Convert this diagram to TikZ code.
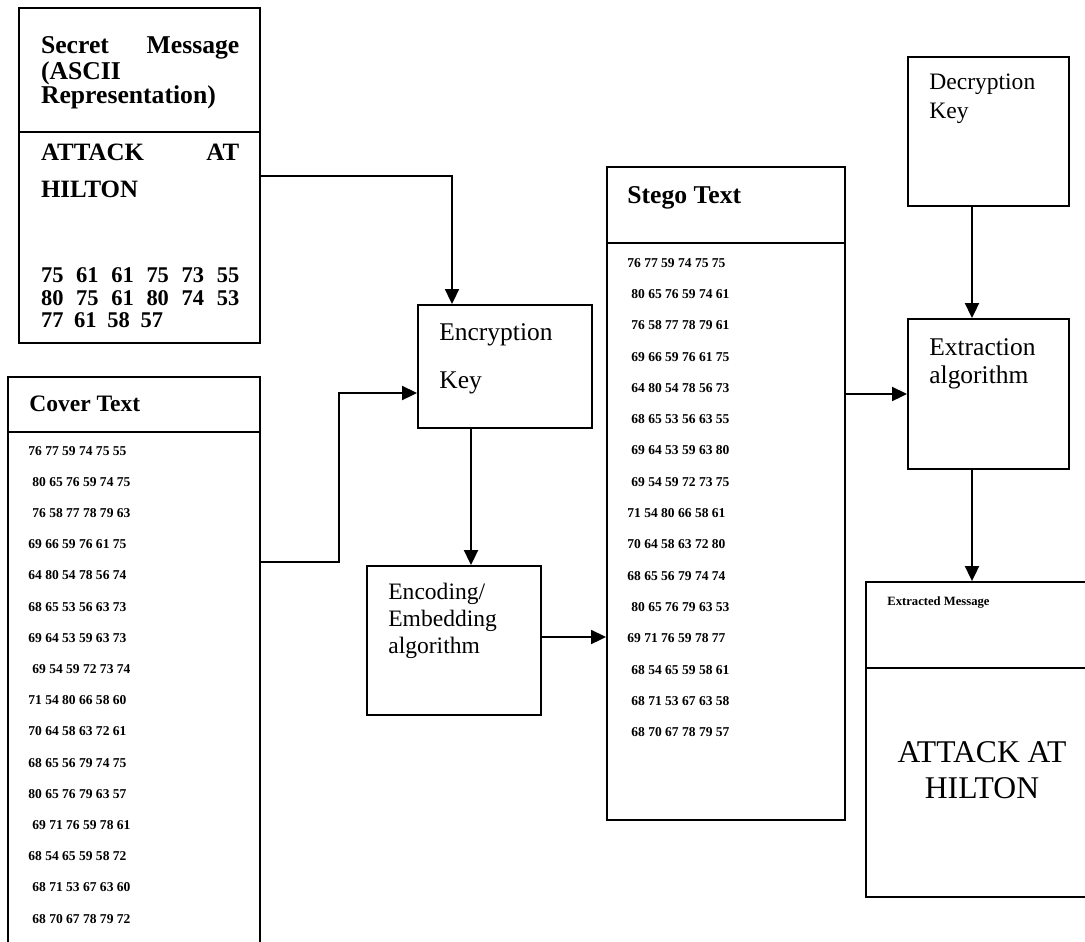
\documentclass[tikz,border=0pt]{standalone}
\usepackage{fontspec}
\setmainfont{Liberation Serif}
\usetikzlibrary{arrows.meta}

\tikzset{
  box/.style={draw, line width=1.1pt, inner sep=0pt},
  lbl/.style={anchor=base west, inner sep=0pt},
  arr/.style={line width=1.1pt, -{Triangle[length=0.3cm,width=0.28cm]}},
}

\begin{document}
\begin{tikzpicture}[x=0.02cm, y=-0.02cm,
    hd/.style={lbl, font=\fontsize{14.6pt}{17pt}\selectfont\bfseries},
    msgtxt/.style={lbl, font=\fontsize{14.2pt}{17pt}\selectfont\bfseries},
    msgnum/.style={lbl, font=\fontsize{12.8pt}{15pt}\selectfont\bfseries},
    num/.style={lbl, font=\fontsize{7.7pt}{9pt}\selectfont\bfseries},
    stepname/.style={lbl, font=\fontsize{14.5pt}{17pt}\selectfont},
    stepsmall/.style={lbl, font=\fontsize{13.4pt}{16pt}\selectfont}]

    \useasboundingbox (0,0) rectangle (1085,941);
    \clip (0,0) rectangle (1085,941);

    % these are the boxes
    \node[box, minimum width=4.82cm, minimum height=6.70cm] (secret) at (139.5,175.5) {};
    \node[box, minimum width=5.04cm, minimum height=12.06cm] (cover) at (134,678.5) {};
    \node[box, minimum width=3.48cm, minimum height=2.46cm] (encr) at (505,366.5) {};
    \node[box, minimum width=3.48cm, minimum height=2.98cm] (encode) at (454,640.5) {};
    \node[box, minimum width=4.76cm, minimum height=13.06cm] (stego) at (726,493.5) {};
    \node[box, minimum width=3.22cm, minimum height=2.98cm] (decr) at (988.5,131.5) {};
    \node[box, minimum width=3.22cm, minimum height=3.00cm] (extr) at (988.5,394) {};
    \node[box, minimum width=4.88cm, minimum height=6.30cm] (outmsg) at (988,739.5) {};

    % header lines
    \draw[line width=1.1pt] (secret.west |- 0,132) -- (secret.east |- 0,132);
    \draw[line width=1.1pt] (cover.west |- 0,432) -- (cover.east |- 0,432);
    \draw[line width=1.1pt] (stego.west |- 0,243) -- (stego.east |- 0,243);
    \draw[line width=1.1pt] (outmsg.west |- 0,668) -- (outmsg.east |- 0,668);

    % secret message
    \node[hd] (sm1) at (40.7,53) {\makebox[3.966cm][s]{Secret Message}};
    \node[hd] (sm2) at (40.7,79) {(ASCII};
    \node[hd] (sm3) at (40.7,103) {Representation)};
    \node[msgtxt] (sm4) at (40.7,160) {\makebox[3.966cm][s]{ATTACK AT}};
    \node[msgtxt] (sm5) at (40.7,197) {HILTON};
    \node[msgnum] (sm6) at (40.7,282) {\makebox[3.966cm][s]{75 61 61 75 73 55}};
    \node[msgnum] (sm7) at (40.7,305) {\makebox[3.966cm][s]{80 75 61 80 74 53}};
    \node[msgnum] (sm8) at (40.7,327) {\makebox[2.44cm][s]{77 61 58 57}};

    % cover text
    \node[lbl, font=\fontsize{13.4pt}{16pt}\selectfont\bfseries] (covhd) at (29,411) {Cover Text};
    \foreach \ind/\row [count=\i from 0] in {0/76 77 59 74 75 55, 1/80 65 76 59 74 75,
        1/76 58 77 78 79 63, 0/69 66 59 76 61 75, 0/64 80 54 78 56 74, 0/68 65 53 56 63 73,
        0/69 64 53 59 63 73, 1/69 54 59 72 73 74, 0/71 54 80 66 58 60, 0/70 64 58 63 72 61,
        0/68 65 56 79 74 75, 0/80 65 76 79 63 57, 1/69 71 76 59 78 61, 0/68 54 65 59 58 72,
        1/68 71 53 67 63 60, 1/68 70 67 78 79 72}
        \node[num] (cov\i) at ({28+4*\ind},{455+31.2*\i}) {\row};

    % stego text
    \node[hd] (stghd) at (627,203) {Stego Text};
    \foreach \ind/\row [count=\i from 0] in {0/76 77 59 74 75 75, 1/80 65 76 59 74 61,
        1/76 58 77 78 79 61, 1/69 66 59 76 61 75, 1/64 80 54 78 56 73, 1/68 65 53 56 63 55,
        1/69 64 53 59 63 80, 1/69 54 59 72 73 75, 0/71 54 80 66 58 61, 0/70 64 58 63 72 80,
        0/68 65 56 79 74 74, 1/80 65 76 79 63 53, 0/69 71 76 59 78 77, 1/68 54 65 59 58 61,
        1/68 71 53 67 63 58, 1/68 70 67 78 79 57}
        \node[num] (stg\i) at ({627+4*\ind},{267+31.33*\i}) {\row};

    % the steps
    \node[stepname] (encr1) at (439,340) {Encryption};
    \node[stepname] (encr2) at (439,388) {Key};
    \node[stepsmall] (enc1) at (388,599) {Encoding/};
    \node[stepsmall] (enc2) at (388,626) {Embedding};
    \node[stepsmall] (enc3) at (388,653) {algorithm};
    \node[stepsmall] (decr1) at (929,89) {Decryption};
    \node[stepsmall] (decr2) at (929,118) {Key};
    \node[stepname] (extr1) at (929,355) {Extraction};
    \node[stepname] (extr2) at (929,383) {algorithm};

    % extracted message
    \node[lbl, font=\fontsize{7.2pt}{9pt}\selectfont\bfseries] (outhd) at (887,605) {Extracted Message};
    \node[lbl, anchor=base, font=\fontsize{18pt}{21pt}\selectfont] (out1) at (982,762) {ATTACK AT};
    \node[lbl, anchor=base, font=\fontsize{18pt}{21pt}\selectfont] (out2) at (982,798) {HILTON};

    % the arrows
    \coordinate (cbend) at (339,562);
    \draw[arr] (secret.east |- 0,176) -| (encr.north -| 452,0);
    \draw[arr] (cover.east |- cbend) -- (cbend) |- (encr.west |- 0,393);
    \draw[arr] (encr.south -| 471,0) -- (encode.north -| 471,0);
    \draw[arr] (encode.east |- 0,637) -- (stego.west |- 0,637);
    \draw[arr] (stego.east |- extr.west) -- (extr.west);
    \draw[arr] (decr.south -| 972,0) -- (extr.north -| 972,0);
    \draw[arr] (extr.south -| 972,0) -- (outmsg.north -| 972,0);

\end{tikzpicture}
\end{document}
